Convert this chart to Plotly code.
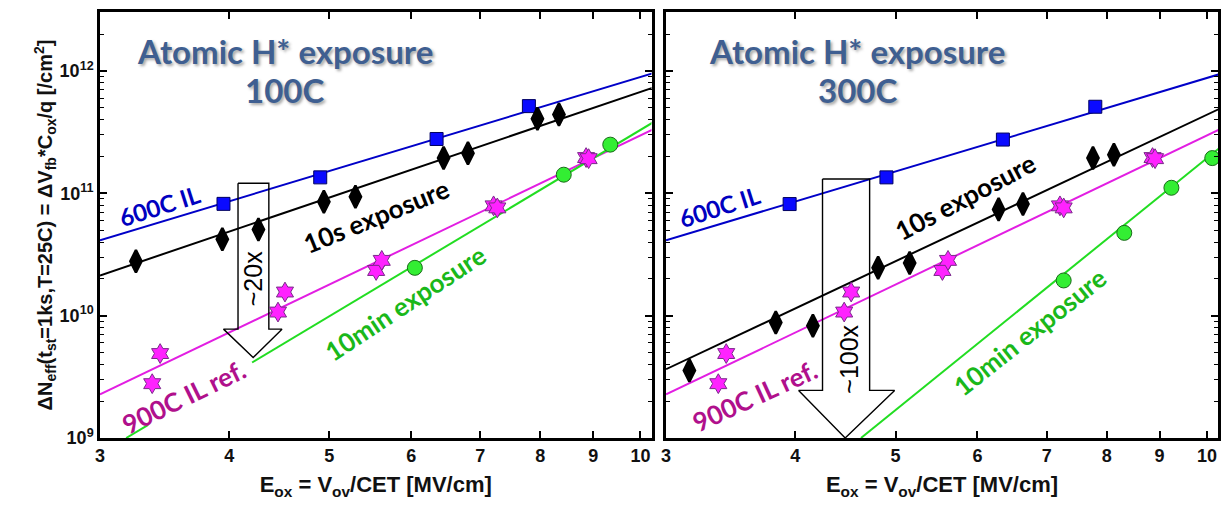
import numpy as np
import plotly.graph_objects as go

# ---------------- data ----------------
# 600C IL (same reference in both panels)
e_600 = [3.95, 4.90, 6.35, 7.80]
n_600_100 = [8.2e10, 1.35e11, 2.78e11, 5.16e11]
n_600_300 = [8.17e10, 1.35e11, 2.75e11, 5.1e11]

# 10s exposure
e_10s_100 = [3.25, 3.94, 4.27, 4.94, 5.30, 6.45, 6.81, 7.95, 8.34]
n_10s_100 = [2.78e10, 4.22e10, 5.06e10, 8.54e10, 9.39e10, 1.94e11, 2.13e11, 4.06e11, 4.40e11]
e_10s_300 = [3.16, 3.83, 4.16, 4.81, 5.16, 6.29, 6.64, 7.76, 8.13]
n_10s_300 = [3.57e9, 8.81e9, 8.27e9, 2.46e10, 2.69e10, 7.39e10, 8.17e10, 1.94e11, 2.07e11]

# 900C IL ref.
e_900 = [3.37, 3.43, 4.46, 4.53, 5.55, 5.62, 7.21, 7.27, 8.86, 8.91]
n_900 = [2.78e9, 4.9e9, 1.07e10, 1.56e10, 2.34e10, 2.83e10, 7.9e10, 7.6e10, 1.96e11, 1.92e11]

# 10min exposure
e_10m_100 = [6.05, 8.43, 9.35]
n_10m_100 = [2.46e10, 1.42e11, 2.50e11]
e_10m_300 = [7.27, 8.32, 9.24, 10.12]
n_10m_300 = [1.94e10, 4.75e10, 1.11e11, 1.94e11]

# fitted lines (end points)
fit_x = [3.0, 10.28]
fit_600_100 = [4.13e10, 9.57e11]
fit_10s_100 = [2.13e10, 7.3e11]
fit_900 = [2.27e9, 3.32e11]
fit_10m_100_x = [3.18, 3.34, None, 4.21, 10.28]
fit_10m_100 = [1.0e9, 1.28e9, None, 4.14e9, 3.79e11]
fit_600_300 = [4.13e10, 9.4e11]
fit_10s_300 = [3.65e9, 4.9e11]
fit_10m_300_x = [4.63, 10.28]
fit_10m_300 = [1.0e9, 2.34e11]

# arrows (outline polygons)
arrow_100_x = [4.08, 4.37, 4.37, 4.50, 4.22, 3.95, 4.08, 4.08]
arrow_100_y = [1.21e11, 1.21e11, 7.76e9, 7.76e9, 4.55e9, 7.76e9, 7.76e9, 1.21e11]
arrow_300_x = [4.25, 4.72, 4.72, 4.99, 4.47, 4.03, 4.25, 4.25]
arrow_300_y = [1.31e11, 1.31e11, 2.45e9, 2.45e9, 1.0e9, 2.45e9, 2.45e9, 1.31e11]

x_ticks = [3, 4, 5, 6, 7, 8, 9, 10]
y_ticks = [1e9, 1e10, 1e11, 1e12]
y_ticktext = ["10<sup>9</sup>", "10<sup>10</sup>", "10<sup>11</sup>", "10<sup>12</sup>"]

# ---------------- styles ----------------
BLUE_L = "#0000c8"
MAG_L = "#e21ee2"
GRN_L = "#22dd22"
LW = 2

fig = go.Figure()

def add_panel(xa, ya, n600, e10s, n10s, e10m, n10m, f600, f10s, f10m_x, f10m, ax_x, ax_y):
    kw = dict(xaxis=xa, yaxis=ya, showlegend=False, hoverinfo="skip")
    fig.add_trace(go.Scatter(x=fit_x, y=f600, mode="lines", line=dict(color=BLUE_L, width=LW), **kw))
    fig.add_trace(go.Scatter(x=fit_x, y=f10s, mode="lines", line=dict(color="black", width=LW), **kw))
    fig.add_trace(go.Scatter(x=fit_x, y=fit_900, mode="lines", line=dict(color=MAG_L, width=LW), **kw))
    fig.add_trace(go.Scatter(x=f10m_x, y=f10m, mode="lines", line=dict(color=GRN_L, width=LW),
                             connectgaps=False, **kw))
    fig.add_trace(go.Scatter(x=ax_x, y=ax_y, mode="lines", line=dict(color="black", width=1.4), **kw))
    fig.add_trace(go.Scatter(x=e_600, y=n600, mode="markers",
                             marker=dict(symbol="square", size=13, color="#0a0aff",
                                         line=dict(color="#000060", width=1)), **kw))
    fig.add_trace(go.Scatter(x=e10s, y=n10s, mode="markers",
                             marker=dict(symbol="diamond-tall", size=16, color="black",
                                         line=dict(color="black", width=2.5)), **kw))
    fig.add_trace(go.Scatter(x=e_900, y=n_900, mode="markers",
                             marker=dict(symbol="hexagram", size=15, color="#ff22ff",
                                         line=dict(color="#7a2a8a", width=1)), **kw))
    fig.add_trace(go.Scatter(x=e10m, y=n10m, mode="markers",
                             marker=dict(symbol="circle", size=15, color="#33ee33",
                                         line=dict(color="#1a6a1a", width=1)), **kw))

add_panel("x", "y", n_600_100, e_10s_100, n_10s_100, e_10m_100, n_10m_100,
          fit_600_100, fit_10s_100, fit_10m_100_x, fit_10m_100, arrow_100_x, arrow_100_y)
add_panel("x2", "y2", n_600_300, e_10s_300, n_10s_300, e_10m_300, n_10m_300,
          fit_600_300, fit_10s_300, fit_10m_300_x, fit_10m_300, arrow_300_x, arrow_300_y)

LAB_FONT = "Lato"
TITLE_COL = "#3f5f91"
SHADOW = "2px 2px 3px rgba(0,0,0,0.35)"

def ann(xref, yref, x, y, text, color, size, angle=0, family=LAB_FONT, font_extra=None):
    f = dict(family=family, size=size, color=color)
    if font_extra:
        f.update(font_extra)
    return dict(xref=xref, yref=yref, x=np.log10(x), y=np.log10(y), text=text, showarrow=False,
                font=f, textangle=angle, xanchor="center", yanchor="middle")

annotations = [
    # left panel
    ann("x", "y", 4.53, 1.46e12, "<b>Atomic H* exposure</b>", TITLE_COL, 33, font_extra=dict(shadow=SHADOW)),
    ann("x", "y", 4.53, 6.97e11, "<b>100C</b>", TITLE_COL, 33, font_extra=dict(shadow=SHADOW)),
    ann("x", "y", 3.43, 7.9e10, "<b>600C IL</b>", "#0000c0", 24, -17.6),
    ann("x", "y", 5.55, 6.55e10, "<b>10s exposure</b>", "black", 26, -22),
    ann("x", "y", 5.92, 1.28e10, "<b>10min exposure</b>", "#1ab81a", 26, -33.4),
    ann("x", "y", 3.61, 2.17e9, "<b>900C IL ref.</b>", "#b0108c", 26, -26),
    ann("x", "y", 4.22, 1.99e10, "~20x", "black", 25, -90, family="Liberation Sans"),
    # right panel
    ann("x2", "y2", 4.59, 1.46e12, "<b>Atomic H* exposure</b>", TITLE_COL, 33, font_extra=dict(shadow=SHADOW)),
    ann("x2", "y2", 4.59, 6.97e11, "<b>300C</b>", TITLE_COL, 33, font_extra=dict(shadow=SHADOW)),
    ann("x2", "y2", 3.38, 7.76e10, "<b>600C IL</b>", "#0000c0", 24, -17.6),
    ann("x2", "y2", 5.83, 9.38e10, "<b>10s exposure</b>", "black", 26, -27.9),
    ann("x2", "y2", 3.65, 2.21e9, "<b>900C IL ref.</b>", "#b0108c", 26, -24.7),
    ann("x2", "y2", 6.74, 7.3e9, "<b>10min exposure</b>", "#1ab81a", 26, -38.5),
    ann("x2", "y2", 4.50, 4.38e9, "~100x", "black", 25, -90, family="Liberation Sans"),
]

axis_common = dict(type="log", showline=True, linewidth=2.5, linecolor="black", mirror="ticks",
                   ticks="inside", ticklen=7, tickwidth=1.8, tickcolor="black", showgrid=False,
                   zeroline=False,
                   tickfont=dict(family="Liberation Sans", size=18, color="#111", weight="bold"))

xaxis_common = dict(axis_common, range=[np.log10(3), np.log10(10.25)], tickvals=x_ticks,
                    ticktext=[str(t) for t in x_ticks],
                    title=dict(text="<b>E<sub>ox</sub> = V<sub>ov</sub>/CET [MV/cm]</b>",
                               font=dict(family="Liberation Sans", size=22, color="#111"),
                               standoff=12))
yaxis_common = dict(axis_common, range=[9, 12.482], tickvals=y_ticks,
                    minor=dict(ticks="inside", ticklen=4, tickwidth=1.2, tickcolor="black",
                               tickvals=[m * 10 ** e for e in range(9, 13) for m in range(2, 10)]))

fig.update_layout(
    width=1225, height=510,
    margin=dict(l=100, r=4, t=12, b=72),
    paper_bgcolor="white", plot_bgcolor="white",
    xaxis=dict(xaxis_common, domain=[0, 0.4933], anchor="y"),
    xaxis2=dict(xaxis_common, domain=[0.5063, 1], anchor="y2"),
    yaxis=dict(yaxis_common, ticktext=y_ticktext, anchor="x",
               title=dict(text="<b>ΔN<sub>eff</sub>(t<sub>st</sub>=1ks,T=25C) = ΔV<sub>fb</sub>*C<sub>ox</sub>/q [/cm<sup>2</sup>]</b>",
                          font=dict(family="Liberation Sans", size=20, color="#111"), standoff=2)),
    yaxis2=dict(yaxis_common, anchor="x2", showticklabels=False),
    annotations=annotations,
)

fig.write_html("out.html", config={"displayModeBar": False},
               post_script="document.body.style.margin='0px';document.body.style.overflow='hidden';")
